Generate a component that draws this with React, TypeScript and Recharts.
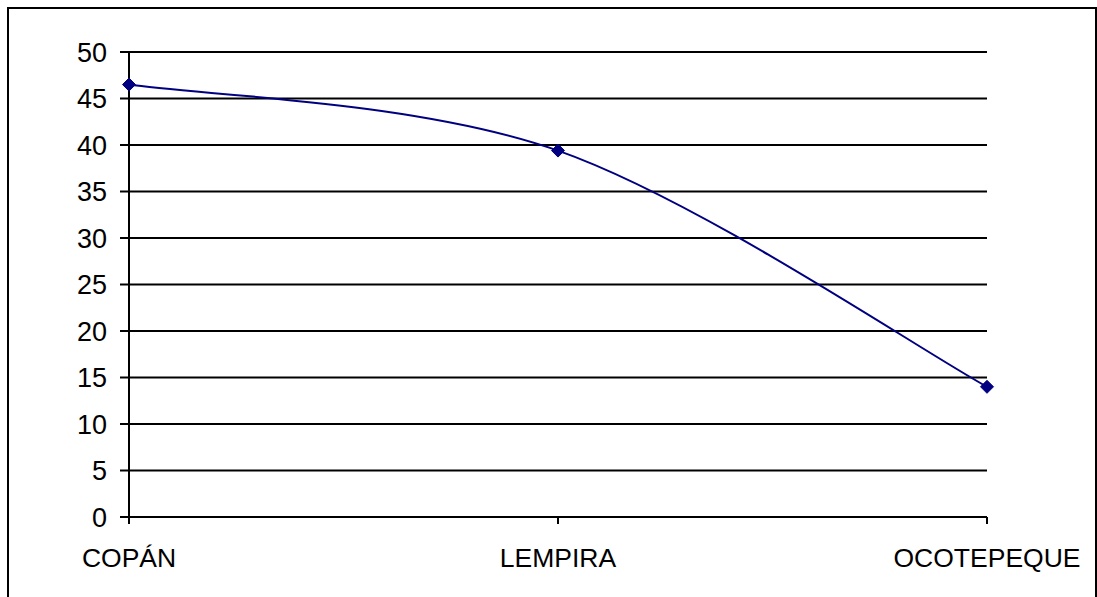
import React from 'react';
import { LineChart, Line, XAxis, YAxis, CartesianGrid } from 'recharts';

// departamentos y valores
const categories = ['COPÁN', 'LEMPIRA', 'OCOTEPEQUE'];
const values = [46.5, 39.4, 14];
const yTicks = [0, 5, 10, 15, 20, 25, 30, 35, 40, 45, 50];

const data = categories.map((name, i) => ({ name, value: values[i] }));

const NAVY = '#000080';

// suavizado tipo Excel (Catmull-Rom, factor 1/6) sobre los puntos ya escalados
const excelSmooth = (context: any) => {
  let pts: number[][] = [];
  return {
    areaStart() {},
    areaEnd() {},
    lineStart() {
      pts = [];
    },
    point(x: number, y: number) {
      pts.push([+x, +y]);
    },
    lineEnd() {
      const n = pts.length;
      if (!n) return;
      context.moveTo(pts[0][0], pts[0][1]);
      for (let i = 0; i < n - 1; i++) {
        const p0 = pts[i - 1] || pts[i];
        const p1 = pts[i];
        const p2 = pts[i + 1];
        const p3 = pts[i + 2] || pts[i + 1];
        context.bezierCurveTo(
          p1[0] + (p2[0] - p0[0]) / 6,
          p1[1] + (p2[1] - p0[1]) / 6,
          p2[0] - (p3[0] - p1[0]) / 6,
          p2[1] - (p3[1] - p1[1]) / 6,
          p2[0],
          p2[1]
        );
      }
    },
  };
};

const Diamond = (props: any) => {
  const { cx, cy } = props;
  if (cx == null || cy == null) return null;
  const r = 6.5;
  return (
    <polygon
      points={`${cx},${cy - r} ${cx + r},${cy} ${cx},${cy + r} ${cx - r},${cy}`}
      fill={NAVY}
      stroke={NAVY}
      strokeWidth={1}
    />
  );
};

export default function App() {
  return (
    <div
      style={{
        position: 'absolute',
        left: 7,
        top: 7,
        width: 1090,
        height: 600,
        boxSizing: 'border-box',
        border: '2px solid #000',
        background: '#fff',
        fontFamily: '"Liberation Sans", Arial, sans-serif',
      }}
    >
      <LineChart
        width={1086}
        height={596}
        data={data}
        margin={{ top: 43, right: 108, bottom: 28, left: 0 }}
      >
        <CartesianGrid horizontal vertical={false} stroke="#000" strokeWidth={2} />
        <XAxis
          dataKey="name"
          scale="point"
          padding={{ left: 0, right: 0 }}
          height={60}
          stroke="#000"
          strokeWidth={2}
          tickSize={7}
          tickMargin={24}
          tick={{ fill: '#000', fontSize: 26.5 }}
          interval={0}
        />
        <YAxis
          type="number"
          domain={[0, 50]}
          ticks={yTicks}
          width={120}
          stroke="#000"
          strokeWidth={2}
          tickSize={9}
          tickMargin={13}
          tick={{ fill: '#000', fontSize: 27 }}
          interval={0}
        />
        <Line
          type={excelSmooth as any}
          dataKey="value"
          stroke={NAVY}
          strokeWidth={2}
          dot={<Diamond />}
          activeDot={false}
          isAnimationActive={false}
        />
      </LineChart>
    </div>
  );
}
